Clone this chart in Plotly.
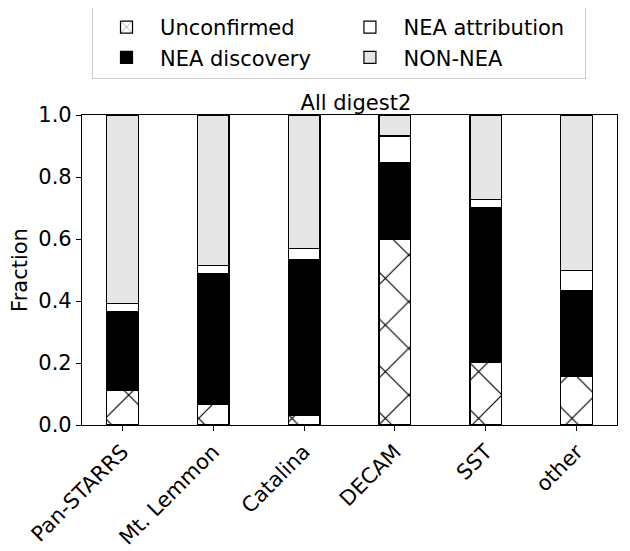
import plotly.graph_objects as go

categories = ["Pan-STARRS", "Mt. Lemmon", "Catalina", "DECAM", "SST", "other"]
unconfirmed = [0.113, 0.065, 0.032, 0.600, 0.202, 0.156]
nea_discovery = [0.252, 0.424, 0.502, 0.248, 0.499, 0.277]
nea_attribution = [0.027, 0.026, 0.036, 0.084, 0.027, 0.065]
non_nea = [1 - (a + b + c) for a, b, c in zip(unconfirmed, nea_discovery, nea_attribution)]

x = list(range(len(categories)))
font = "DejaVu Sans"
FS = 21
line = dict(color="black", width=1.2)

fig = go.Figure()
fig.add_bar(x=x, y=unconfirmed, name="Unconfirmed", width=0.35, legendrank=1,
            marker=dict(color="white", line=line,
                        pattern=dict(shape="x", size=33, solidity=0.07, fgopacity=1,
                                     fgcolor="black", bgcolor="white")))
fig.add_bar(x=x, y=nea_discovery, name="NEA discovery", width=0.35, legendrank=3,
            marker=dict(color="black", line=line))
fig.add_bar(x=x, y=nea_attribution, name="NEA attribution", width=0.35, legendrank=2,
            marker=dict(color="white", line=line))
fig.add_bar(x=x, y=non_nea, name="NON-NEA", width=0.35, legendrank=4,
            marker=dict(color="#e6e6e6", line=line))

# page body has an 8px default margin, so offset the layout by -8px
fig.update_layout(
    barmode="stack",
    width=630, height=551,
    margin=dict(l=74, r=21, t=107, b=134, autoexpand=False),
    plot_bgcolor="white", paper_bgcolor="white",
    font=dict(family=font, size=FS, color="black"),
    title=dict(text="All digest2", x=0.512, xref="paper", xanchor="center",
               y=1.0, yref="paper", yanchor="bottom", pad=dict(b=5),
               font=dict(size=FS)),
    legend=dict(orientation="h", x=0.0187, xanchor="left", y=1.352, yanchor="top",
                entrywidth=0.455, entrywidthmode="fraction", itemwidth=57,
                bordercolor="#cccccc", borderwidth=1, font=dict(size=FS),
                traceorder="normal", tracegroupgap=0),
    showlegend=True,
)
fig.update_xaxes(range=[-0.4425, 5.4425], tickvals=x, ticktext=categories, tickangle=-45,
                 showline=True, linecolor="black", linewidth=1.2, mirror=True,
                 ticks="outside", ticklen=5, tickcolor="black", showgrid=False,
                 tickfont=dict(size=FS))
fig.update_yaxes(range=[0, 1], tickvals=[0, 0.2, 0.4, 0.6, 0.8, 1.0],
                 ticktext=["0.0", "0.2", "0.4", "0.6", "0.8", "1.0"],
                 title=dict(text="Fraction", font=dict(size=FS), standoff=6),
                 showline=True, linecolor="black", linewidth=1.2, mirror=True,
                 ticks="outside", ticklen=5, tickcolor="black", showgrid=False,
                 zeroline=False, tickfont=dict(size=FS))

fig.write_html("out.html")
